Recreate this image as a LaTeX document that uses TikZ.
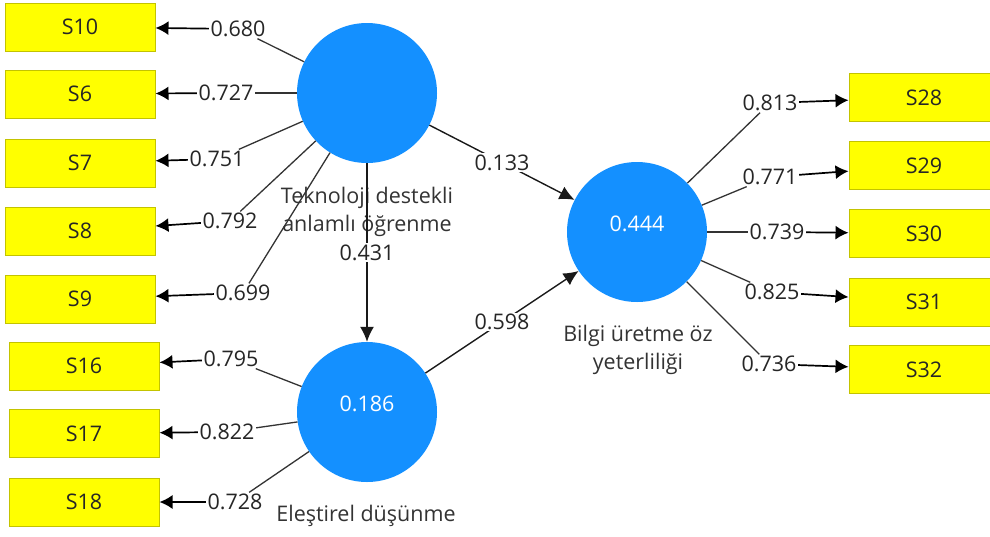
\documentclass[tikz,border=0pt]{standalone}
\usepackage{fontspec}
\setmainfont{Open Sans}
\usetikzlibrary{arrows.meta,positioning}
\definecolor{plsblue}{RGB}{20,144,255}
\definecolor{indyellow}{RGB}{255,255,0}
\definecolor{indborder}{RGB}{195,195,0}

\begin{document}
\begin{tikzpicture}[x=1pt,y=-1pt,
  every node/.style={font=\fontsize{21.5}{28}\selectfont},
  latent/.style={circle,fill=plsblue,draw=none,minimum size=140pt,inner sep=0pt,text=white,text depth=16pt},
  indicator/.style={rectangle,fill=indyellow,draw=indborder,line width=1pt,minimum width=150pt,minimum height=48pt,inner sep=0pt,text=black!85},
  loading/.style={fill=white,inner sep=1.5pt,text=black!85},
  link/.style={draw=black!80,line width=1.3pt},
  outarrow/.style={-{Latex[length=13pt,width=14pt]},line width=1.7pt},
  patharrow/.style={-{Latex[length=15pt,width=14pt]},draw=black!90,line width=1.4pt}
]
  \useasboundingbox (0,0) rectangle (990,536);
  % Latent variables
  \node[latent] (tech) at (367,93) {};
  \node[latent] (crit) at (367,412) {0.186};
  \node[latent] (bilgi) at (637,232) {0.444};
  \node[align=center,text=black!80] (techname) at (367,212) {Teknoloji destekli\\anlamlı öğrenme};
  \node[text=black!80] (critname) at (366,516) {Eleştirel düşünme};
  \node[align=center,text=black!80] (bilginame) at (638,350) {Bilgi üretme öz\\yeterliliği};
  % Indicators
  \node[indicator] (s10) at (80,27) {S10};
  \node[indicator] (s6) at (80,94) {S6};
  \node[indicator] (s7) at (80,163) {S7};
  \node[indicator] (s8) at (80,231) {S8};
  \node[indicator] (s9) at (80,299) {S9};
  \node[indicator] (s16) at (84,366) {S16};
  \node[indicator] (s17) at (84,433.5) {S17};
  \node[indicator] (s18) at (84,502) {S18};
  \node[indicator] (s28) at (924,97.5) {S28};
  \node[indicator] (s29) at (924,165.5) {S29};
  \node[indicator] (s30) at (924,233.5) {S30};
  \node[indicator] (s31) at (924,302) {S31};
  \node[indicator] (s32) at (924,369.5) {S32};
  % Outer loadings
  \node[loading] (l10) at (238,29) {0.680};
  \node[loading] (l6) at (226,93) {0.727};
  \node[loading] (l7) at (217,159) {0.751};
  \node[loading] (l8) at (230,221) {0.792};
  \node[loading] (l9) at (243,293) {0.699};
  \node[loading] (l16) at (231,359) {0.795};
  \node[loading] (l17) at (227,432) {0.822};
  \node[loading] (l18) at (235,502) {0.728};
  \node[loading] (l28) at (770,103) {0.813};
  \node[loading] (l29) at (770,177) {0.771};
  \node[loading] (l30) at (777,232) {0.739};
  \node[loading] (l31) at (772,292) {0.825};
  \node[loading] (l32) at (769,364) {0.736};
  % Measurement links
  \foreach \l/\s in {l10/s10,l6/s6,l7/s7,l8/s8,l9/s9} {
    \draw[link] (tech) -- (\l);
    \draw[outarrow] (\l) -- (\s);
  }
  \foreach \l/\s in {l16/s16,l17/s17,l18/s18} {
    \draw[link] (crit) -- (\l);
    \draw[outarrow] (\l) -- (\s);
  }
  \foreach \l/\s in {l28/s28,l29/s29,l30/s30,l31/s31,l32/s32} {
    \draw[link] (bilgi) -- (\l);
    \draw[outarrow] (\l) -- (\s);
  }
  % Structural paths
  \draw[patharrow] (tech) -- node[loading] (p431) {0.431} (crit);
  \draw[patharrow] (tech) -- node[loading] (p133) {0.133} (bilgi);
  \draw[patharrow] (crit) -- node[loading] (p598) {0.598} (bilgi);
\end{tikzpicture}
\end{document}
